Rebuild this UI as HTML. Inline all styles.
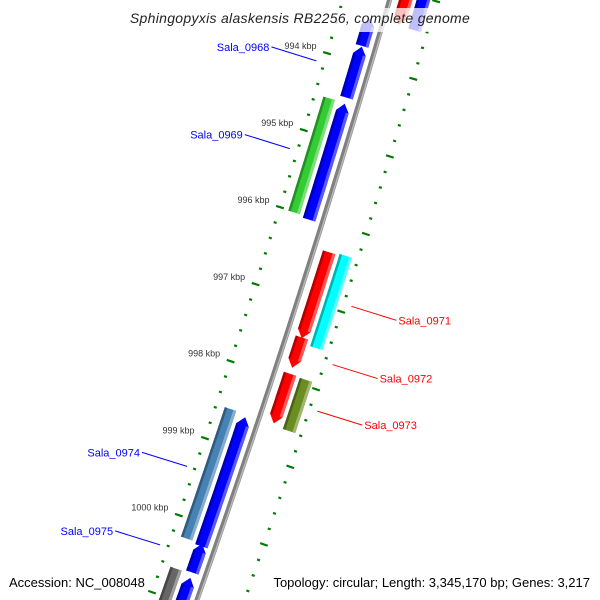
<!DOCTYPE html>
<html><head><meta charset="utf-8"><style>
html,body{margin:0;padding:0;background:#fff;width:600px;height:600px;overflow:hidden;}
svg{display:block;font-family:"Liberation Sans",sans-serif;overflow:hidden;}
</style></head><body>
<svg id="map" width="600" height="600" viewBox="0 0 600 600" xmlns="http://www.w3.org/2000/svg">
<g id="g-ticks"></g>
<g id="g-backbone"></g>
<g id="g-genes"></g>
<g id="g-labels"></g>
<rect x="0" y="8" width="600" height="24" fill="#fff" opacity="0.75"/>
<text x="300" y="23" text-anchor="middle" font-size="14" font-style="italic" fill="#222" letter-spacing="0.3">Sphingopyxis alaskensis RB2256, complete genome</text>
<text x="9" y="587" font-size="13" fill="#000">Accession: NC_008048</text>
<text x="590" y="587" text-anchor="end" font-size="13" fill="#000">Topology: circular; Length: 3,345,170 bp; Genes: 3,217</text>
</svg>
<script>
// gene data (kbp)
const geneNames  = ['B1','Sala_0968','B3','B4','Sala_0975','B6','Sala_0969','Sala_0974','G1','R0','Sala_0971','Sala_0972','R3','T0','C1','Sala_0973'];
const geneStarts = [993.43,993.80,994.54,998.60,1000.24,1000.68,994.53,998.56,1000.63,992.80,996.35,997.45,997.92,992.77,996.33,997.93];
const geneEnds   = [993.79,994.46,996.04,1000.27,1000.61,1001.3,996.01,1000.24,1001.3,993.41,997.46,997.84,998.56,993.42,997.52,998.59];
const geneTrack  = ['li','li','li','li','li','li','lo','lo','lo','ri','ri','ri','ri','ro','ro','ro'];
const geneColors = ['#0000ff','#0000ff','#0000ff','#0000ff','#0000ff','#0000ff','#33cc33','#4682b4','#666666','#ff0000','#ff0000','#ff0000','#ff0000','#0000ff','#00ffff','#6b8e23'];
// labels
const labelNames = ['Sala_0968','Sala_0969','Sala_0974','Sala_0975','Sala_0971','Sala_0972','Sala_0973'];
const labelAt    = [994.13,995.27,999.40,1000.42,996.90,997.65,998.25];
const labelSide  = ['L','L','L','L','R','R','R'];
// ticks
const majorTicks = [994,995,996,997,998,999,1000];
const tickLabels = ['994 kbp','995 kbp','996 kbp','997 kbp','998 kbp','999 kbp','1000 kbp'];
const tickMin = 992.6, tickMax = 1001.6, minorStep = 0.2;

const NS='http://www.w3.org/2000/svg';
function yb(k){return 66+77.3*(k-994);}
function xb(y){return 389.6-0.2914*y-0.0000494*y*y;}
function pos(k,off){const y=yb(k),x=xb(y),d=-0.2914-2*0.0000494*y,n=Math.sqrt(1+d*d);return [x+off/n,y-off*d/n];}
function mk(tag,attrs,parent){const e=document.createElementNS(NS,tag);for(const a in attrs)e.setAttribute(a,attrs[a]);parent.appendChild(e);return e;}
const tracks={li:[-20,-7],lo:[-36,-24],ri:[9,22],ro:[26,39]};
function shade(hex,f){const v=parseInt(hex.slice(1),16);let r=v>>16,g=(v>>8)&255,b=v&255;
 if(f>0){r+= (255-r)*f;g+=(255-g)*f;b+=(255-b)*f;}else{r*=1+f;g*=1+f;b*=1+f;}
 return 'rgb('+Math.round(r)+','+Math.round(g)+','+Math.round(b)+')';}
function edge(s,e,off){const pts=[];const N=20;for(let i=0;i<=N;i++){pts.push(pos(s+(e-s)*i/N,off));}return pts;}
function poly(pts){return pts.map(p=>p[0].toFixed(1)+','+p[1].toFixed(1)).join(' ');}

// backbone
const gb=document.getElementById('g-backbone');
const bb=mk('polygon',{points:poly(edge(992.5,1001.6,-2.5).concat(edge(992.5,1001.6,2.5).reverse())),fill:'#808080'},gb);


const bl=mk('polygon',{points:poly(edge(992.5,1001.6,0.5).concat(edge(992.5,1001.6,2).reverse())),fill:'#b8b8b8'},gb);



// ticks
const gt=document.getElementById('g-ticks');
for(let k=tickMin;k<=tickMax+1e-6;k+=minorStep){
 const isMaj=Math.abs(k-Math.round(k))<1e-6;
 [-45,45].forEach(r=>{
  const h=isMaj?4:1.5;
  const a=pos(k,r-h),b=pos(k,r+h);
  const t=mk('line',{x1:a[0],y1:a[1],x2:b[0],y2:b[1],stroke:'#007a00','stroke-width':2.2},gt);
  
  
 });
}
majorTicks.forEach((k,i)=>{
 const p=pos(k,-56);
 const t=mk('text',{x:p[0].toFixed(1),y:(p[1]-1).toFixed(1),'text-anchor':'end','font-size':9,fill:'#333'},gt);
 t.textContent=tickLabels[i];
 
 
});

// genes
const gg=document.getElementById('g-genes');
geneStarts.forEach((s,i)=>{
 const e=geneEnds[i],tr=geneTrack[i],[o1,o2]=tracks[tr],col=geneColors[i];
 const ah=0.1,mid=(o1+o2)/2;
 let outline;
 if(tr==='li'){
  const tip=pos(s,mid);
  outline=[tip].concat(edge(s+ah,e,o2)).concat(edge(s+ah,e,o1).reverse());
 } else if(tr==='ri'){
  const tip=pos(e,mid);
  outline=edge(s,e-ah,o1).concat([tip]).concat(edge(s,e-ah,o2).reverse());
 } else {
  outline=edge(s,e,o1).concat(edge(s,e,o2).reverse());
 }
 const g=mk('g',{},gg);
 
 
 mk('polygon',{points:poly(outline),fill:col},g);
 const s2=tr==='li'?s+ah:s, e2=tr==='ri'?e-ah:e;
 mk('polygon',{points:poly(edge(s2,e2,o1).concat(edge(s2,e2,o1+2.5).reverse())),fill:shade(col,-0.3)},g);
 mk('polygon',{points:poly(edge(s2,e2,o2-3).concat(edge(s2,e2,o2).reverse())),fill:shade(col,0.35)},g);
});

// gene labels
const gl=document.getElementById('g-labels');
labelNames.forEach((nm,i)=>{
 const L=labelSide[i]==='L';
 const a=pos(labelAt[i],L?-53:53);
 const b=L?[a[0]-45,a[1]-14]:[a[0]+45,a[1]+14];
 const col=L?'#0000ff':'#ff0000';
 const ln=mk('line',{x1:a[0],y1:a[1],x2:b[0],y2:b[1],stroke:col,'stroke-width':1},gl);
 
 
 const t=mk('text',{x:(L?b[0]-2:b[0]+2).toFixed(1),y:(b[1]+4).toFixed(1),'text-anchor':L?'end':'start','font-size':11,fill:col},gl);
 t.textContent=nm;
 
 
});
</script>
</body></html>
